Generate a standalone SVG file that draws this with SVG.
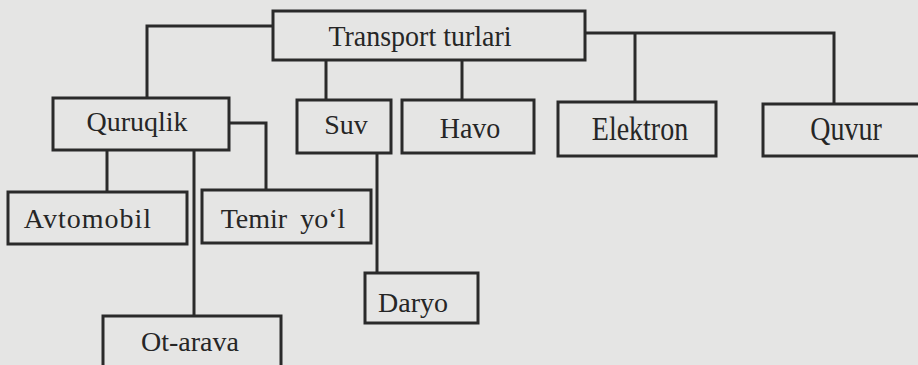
<svg xmlns="http://www.w3.org/2000/svg" width="918" height="365" viewBox="0 0 918 365">
<style>
.box{fill:none;stroke:#2a2a2a;stroke-width:3}
.ln{fill:none;stroke:#2a2a2a;stroke-width:3}
.t{font-family:"Liberation Serif","Times New Roman",serif;font-size:28px;fill:#262626;text-anchor:middle}
</style>
<rect x="0" y="0" width="918" height="365" fill="#e5e5e4"/>
<g id="connectors">
<path class="ln" d="M273 26 H147 V98"/>
<path class="ln" d="M585 33 H834 V104"/>
<path class="ln" d="M635 33 V102"/>
<path class="ln" d="M326 60 V100"/>
<path class="ln" d="M462 60 V100"/>
<path class="ln" d="M229 123 H266 V190"/>
<path class="ln" d="M107 150 V192"/>
<path class="ln" d="M194 150 V316"/>
<path class="ln" d="M377 153 V273"/>
</g>
<g id="transport"><rect class="box" x="273" y="11" width="312" height="49"/><text class="t" x="420" y="46" font-size="29.5" transform="translate(420 46) scale(1 1.08) translate(-420 -46)">Transport turlari</text></g>
<g id="quruqlik"><rect class="box" x="53" y="98" width="176" height="52"/><text class="t" x="137" y="131">Quruqlik</text></g>
<g id="suv"><rect class="box" x="297" y="100" width="94" height="53"/><text class="t" x="346" y="134">Suv</text></g>
<g id="havo"><rect class="box" x="402" y="100" width="132" height="53"/><text class="t" x="470" y="138" font-size="29.5" transform="translate(470 138) scale(1 1.05) translate(-470 -138)">Havo</text></g>
<g id="elektron"><rect class="box" x="558" y="102" width="158" height="54"/><text class="t" x="640" y="140" transform="translate(640 140) scale(1 1.2) translate(-640 -140)">Elektron</text></g>
<g id="quvur"><rect class="box" x="763" y="104" width="165" height="52"/><text class="t" x="846" y="140" transform="translate(846 140) scale(1 1.2) translate(-846 -140)">Quvur</text></g>
<g id="avtomobil"><rect class="box" x="8" y="192" width="179" height="52"/><text class="t" x="88" y="228" letter-spacing="1">Avtomobil</text></g>
<g id="temir-yol"><rect class="box" x="202" y="190" width="169" height="53"/><text class="t" x="283" y="228" word-spacing="6">Temir yo‘l</text></g>
<g id="daryo"><rect class="box" x="365" y="273" width="113" height="50"/><text class="t" x="413" y="312">Daryo</text></g>
<g id="ot-arava"><rect class="box" x="103" y="316" width="178" height="60"/><text class="t" x="190" y="351">Ot-arava</text></g>
</svg>
